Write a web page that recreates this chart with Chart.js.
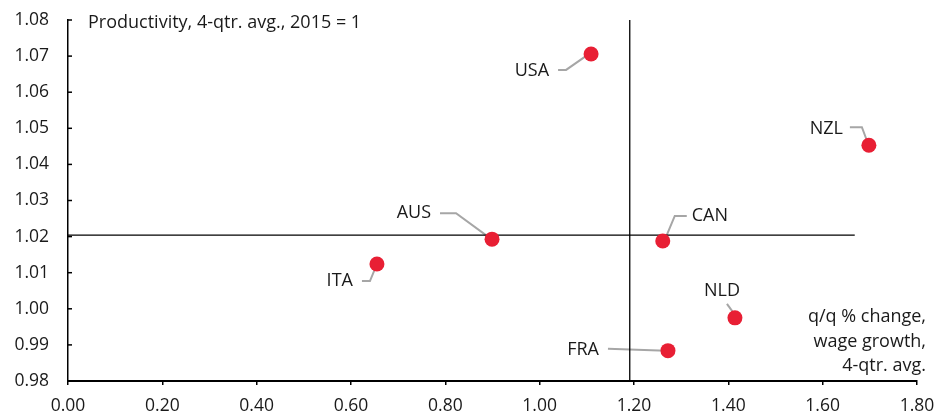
<!DOCTYPE html>
<html>
<head>
<meta charset="utf-8">
<script src="https://cdn.jsdelivr.net/npm/chart.js@4"></script>
<style>
	body { margin: 0; background: #fff; }
	#wrap { width: 948px; height: 413px; }
</style>
</head>
<body>
<div id="wrap"><canvas id="myChart" width="948" height="413"></canvas></div>
<script>
// data
const countries = ["USA", "NZL", "CAN", "AUS", "ITA", "NLD", "FRA"];
const wageGrowth = [1.109, 1.698, 1.261, 0.899, 0.655, 1.414, 1.272];
const productivity = [1.0706, 1.0453, 1.0188, 1.0193, 1.0124, 0.9975, 0.9884];
const refWage = [1.191, 1.191]; // vertical line
const refWageY = [0.98, 1.08];
const refProdX = [0, 1.668]; // horizontal line
const refProd = [1.0204, 1.0204];
const xTicks = [0, 0.2, 0.4, 0.6, 0.8, 1.0, 1.2, 1.4, 1.6, 1.8];
const yTicks = [0.98, 0.99, 1.0, 1.01, 1.02, 1.03, 1.04, 1.05, 1.06, 1.07, 1.08];

// where each label sits relative to its dot (pixels): text pos, then leader line
const labelPos = {
	USA: { tx: -42, ty: 17, align: "right", path: [[-33, 16], [-25, 16], [-2, 0]] },
	NZL: { tx: -26, ty: -16, align: "right", path: [[-19, -18], [-7, -18], [-1, -2]] },
	CAN: { tx: 29, ty: -25, align: "left", path: [[24, -25], [12, -25], [2, -1]] },
	AUS: { tx: -61, ty: -26, align: "right", path: [[-52, -26], [-36, -26], [-2, -1]] },
	ITA: { tx: -24, ty: 17, align: "right", path: [[-15, 17], [-7, 17], [0, 0]] },
	NLD: { tx: -13, ty: -27, align: "center", path: [[-8, -14], [0, -3]] },
	FRA: { tx: -69, ty: -1, align: "right", path: [[-60, -2], [-2, 0]] },
};

const font = "'Open Sans', sans-serif";
const red = "rgb(232, 31, 52)";
const ink = "#1a1a1a";

const points = countries.map((c, i) => ({ x: wageGrowth[i], y: productivity[i], name: c }));

const labelsPlugin = {
	id: "labels",
	beforeDatasetsDraw(chart) {
		const ctx = chart.ctx;
		const xs = chart.scales.x;
		const ys = chart.scales.y;
		ctx.save();
		points.forEach((p) => {
			const lp = labelPos[p.name];
			const px = xs.getPixelForValue(p.x);
			const py = ys.getPixelForValue(p.y);
			ctx.strokeStyle = "#a6a6a6";
			ctx.lineWidth = 2;
			ctx.beginPath();
			lp.path.forEach((pt, k) => {
				if (k == 0) ctx.moveTo(px + pt[0], py + pt[1]);
				else ctx.lineTo(px + pt[0], py + pt[1]);
			});
			ctx.stroke();
			ctx.font = "18px " + font;
			ctx.fillStyle = ink;
			ctx.textBaseline = "middle";
			ctx.textAlign = lp.align;
			ctx.fillText(p.name, px + lp.tx, py + lp.ty);
		});
		ctx.restore();
	},
	afterDraw(chart) {
		const ctx = chart.ctx;
		const xs = chart.scales.x;
		const ys = chart.scales.y;
		ctx.save();
		// short inner ticks on the y axis
		ctx.strokeStyle = "#000";
		ctx.lineWidth = 1.5;
		yTicks.forEach((v) => {
			const py = ys.getPixelForValue(v);
			ctx.beginPath();
			ctx.moveTo(xs.left, py);
			ctx.lineTo(xs.left + 4, py);
			ctx.stroke();
		});
		ctx.font = "18px " + font;
		ctx.fillStyle = ink;
		ctx.textBaseline = "middle";
		ctx.textAlign = "left";
		ctx.fillText("Productivity, 4-qtr. avg., 2015 = 1", 88, 23);
		ctx.textAlign = "right";
		["q/q % change,", "wage growth,", "4-qtr. avg."].forEach((t, i) => {
			ctx.fillText(t, 926, 317 + i * 24.5);
		});
		ctx.restore();
	},
};

const ctx = document.querySelector("#myChart").getContext("2d");
const chart = new Chart(ctx, {
	type: "scatter",
	data: {
		datasets: [
			{
				label: "v",
				data: refWage.map((x, i) => ({ x: x, y: refWageY[i] })),
				showLine: true,
				borderColor: "#000",
				borderWidth: 1.3,
				pointRadius: 0,
				order: 3,
			},
			{
				label: "h",
				data: refProdX.map((x, i) => ({ x: x, y: refProd[i] })),
				showLine: true,
				borderColor: "#000",
				borderWidth: 1.3,
				pointRadius: 0,
				order: 2,
			},
			{
				label: "countries",
				data: points,
				backgroundColor: red,
				borderColor: red,
				borderWidth: 0,
				pointRadius: 7.5,
				order: 1,
			},
		],
	},
	options: {
		responsive: false,
		animation: false,
		layout: { autoPadding: false, padding: { top: 20, right: 31, left: 0, bottom: 0 } },
		plugins: { legend: { display: false }, tooltip: { enabled: false } },
		scales: {
			x: {
				type: "linear",
				min: 0,
				max: 1.8,
				afterBuildTicks: (s) => { s.ticks = xTicks.map((v) => ({ value: v })); },
				afterFit: (s) => { s.height = 32; },
				border: { color: "#000", width: 2 },
				grid: { drawOnChartArea: false, tickLength: 4, color: "#000", lineWidth: 1.5 },
				ticks: {
					padding: 11,
					color: ink,
					font: { family: font, size: 17.5 },
					callback: (v) => v.toFixed(2),
				},
			},
			y: {
				type: "linear",
				min: 0.98,
				max: 1.08,
				afterBuildTicks: (s) => { s.ticks = yTicks.map((v) => ({ value: v })); },
				afterFit: (s) => { s.width = 68; },
				border: { color: "#000", width: 1.5 },
				// invisible outer ticks just push the labels left
				grid: { drawOnChartArea: false, drawTicks: true, tickLength: 19, color: "rgba(0,0,0,0)" },
				ticks: {
					padding: 0,
					color: ink,
					font: { family: font, size: 17.5 },
					callback: (v) => v.toFixed(2),
				},
			},
		},
	},
	plugins: [labelsPlugin],
});
</script>
</body>
</html>
